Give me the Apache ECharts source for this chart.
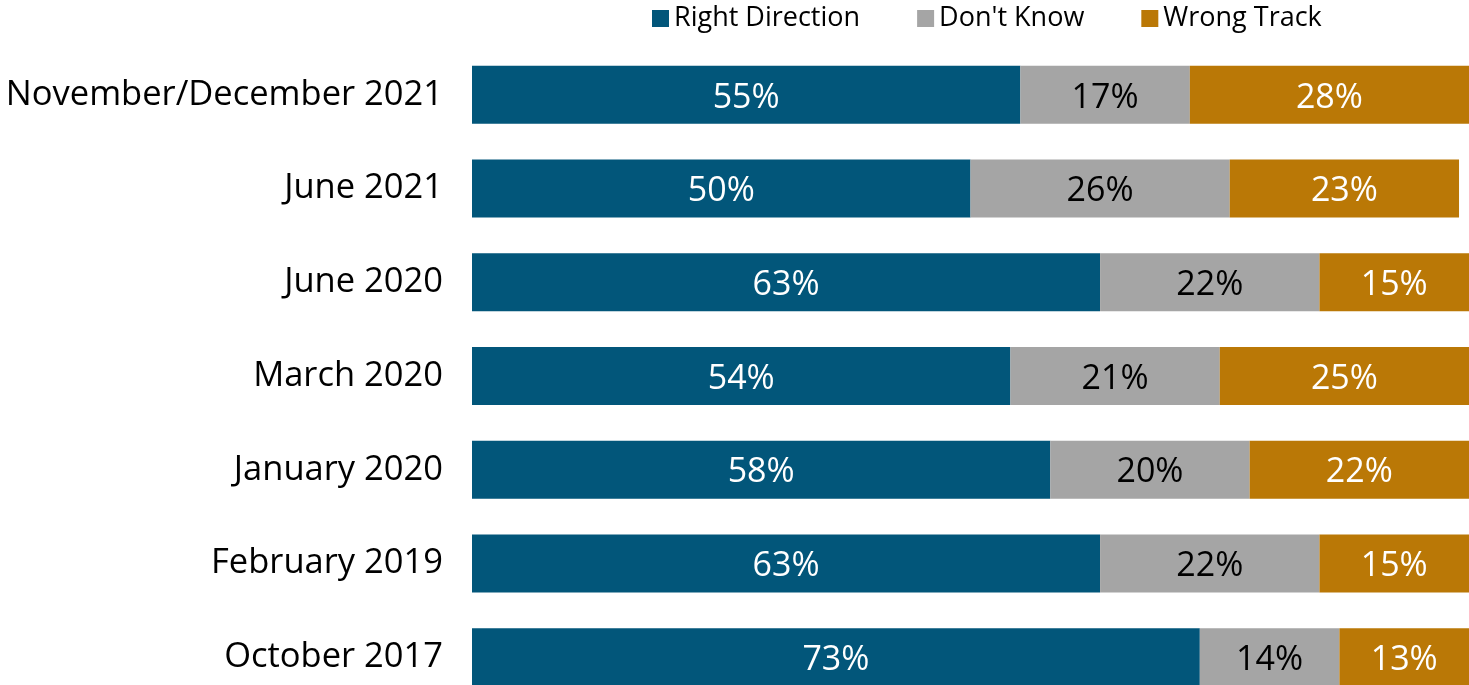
<!DOCTYPE html>
<html><head><meta charset="utf-8">
<script src="https://cdn.jsdelivr.net/npm/echarts@6/dist/echarts.min.js"></script>
<style>html,body{margin:0;padding:0;background:#fff}#c{width:1469px;height:685px}</style>
</head><body><div id="c"></div>
<script>
const categories = ["November/December 2021","June 2021","June 2020","March 2020","January 2020","February 2019","October 2017"];
const rightDirection = [55,50,63,54,58,63,73];
const dontKnow = [17,26,22,21,20,22,14];
const wrongTrack = [28,23,15,25,22,15,13];
const seriesNames = ["Right Direction","Don't Know","Wrong Track"];
const colors = ["#02567A","#A5A5A5","#BA7806"];
const labelColors = ["#fff","#000","#fff"];
const font = "'Open Sans', sans-serif";
const chart = echarts.init(document.getElementById('c'));
const datas = [rightDirection, dontKnow, wrongTrack];
chart.setOption({
  animation:false,
  legend:{left:647, top:0, itemWidth:17, itemHeight:17, itemGap:57,
    textStyle:{fontFamily:font, fontSize:27, color:'#000'},
    data:seriesNames.map((n,i)=>({name:n, icon:'rect'}))},
  grid:{left:472, right:0, top:48, height:656, outerBoundsMode:'none', containLabel:false},
  xAxis:{type:'value', min:0, max:100, show:false},
  yAxis:{type:'category', inverse:true, data:categories,
    axisLine:{show:false}, axisTick:{show:false},
    axisLabel:{fontFamily:font, fontSize:34.5, color:'#000', margin:29, verticalAlign:'middle', lineHeight:40, padding:[6,0,0,0]}},
  series: datas.map((d,i)=>({
    name:seriesNames[i], type:'bar', stack:'s', barWidth:58, data:d,
    itemStyle:{color:colors[i]},
    label:{show:true, position:'inside', formatter:'{c}%', fontFamily:font, fontSize:34, color:labelColors[i], offset:[0,3]}
  }))
});
</script></body></html>
